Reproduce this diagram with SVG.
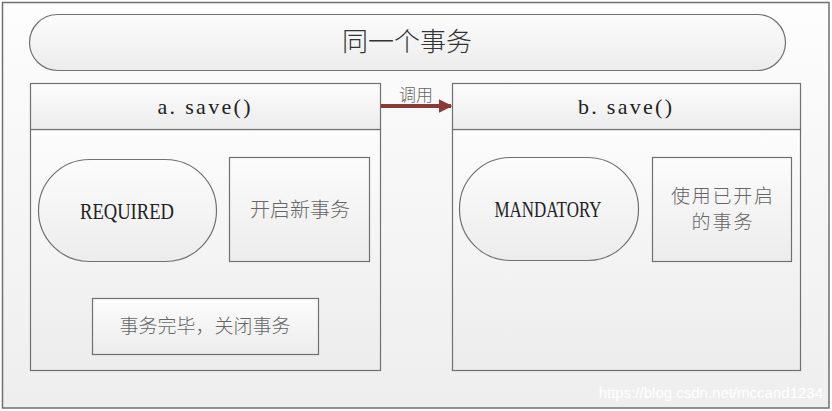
<svg xmlns="http://www.w3.org/2000/svg" width="832" height="411" viewBox="0 0 832 411">
<defs>
<linearGradient id="bg" x1="0" y1="0" x2="0" y2="1">
<stop offset="0" stop-color="#fdfdfd"/>
<stop offset="1" stop-color="#eeeeee"/>
</linearGradient>
<linearGradient id="sh" x1="0" y1="0" x2="0" y2="1">
<stop offset="0" stop-color="#fcfcfc"/>
<stop offset="1" stop-color="#ececec"/>
</linearGradient>
<marker id="ah" viewBox="0 0 10 10" refX="9" refY="5" markerWidth="3.4" markerHeight="3.4" orient="auto" markerUnits="strokeWidth">
<path d="M0,0 L10,5 L0,10 z" fill="#8b3a3a"/>
</marker>
</defs>
<style>
.s{fill:url(#sh);stroke:#707070;stroke-width:1.2}
.cn{font-family:"Noto Sans CJK SC",sans-serif;font-weight:300;fill:#666;text-anchor:middle}
.sf{font-family:"Liberation Serif","Noto Sans CJK SC",serif;fill:#222;text-anchor:middle}
</style>
<rect x="2.5" y="2.5" width="826.5" height="405.5" fill="url(#bg)" stroke="#707070" stroke-width="1.5"/>
<g id="tx">
<rect class="s" x="29.5" y="14.5" width="756" height="56" rx="28" ry="28"/>
<text class="cn" x="407" y="51" font-size="26" style="fill:#333">同一个事务</text>
</g>
<g id="a">
<rect class="s" x="30.5" y="129.5" width="350" height="241"/>
<rect class="s" x="30.5" y="83.5" width="350" height="46"/>
<text class="sf" x="204" y="114" font-size="22" textLength="93" lengthAdjust="spacing">a. save()</text>
</g>
<g id="b">
<rect class="s" x="452.5" y="129.5" width="348" height="241"/>
<rect class="s" x="452.5" y="83.5" width="348" height="46"/>
<text class="sf" x="625" y="114" font-size="22" textLength="94" lengthAdjust="spacing">b. save()</text>
</g>
<g id="required">
<rect class="s" x="38.5" y="159.5" width="178" height="102" rx="51" ry="51"/>
<text class="sf" x="127" y="219" font-size="24" textLength="94" lengthAdjust="spacingAndGlyphs">REQUIRED</text>
</g>
<g id="newtx">
<rect class="s" x="229.5" y="157.5" width="140" height="104"/>
<text class="cn" x="300" y="217" font-size="20">开启新事务</text>
</g>
<g id="close">
<rect class="s" x="92.5" y="298.5" width="226" height="56"/>
<text class="cn" x="205" y="333" font-size="19">事务完毕，关闭事务</text>
</g>
<g id="mandatory">
<rect class="s" x="459.5" y="157.5" width="179" height="103" rx="51" ry="51"/>
<text class="sf" x="548" y="217" font-size="24" textLength="107" lengthAdjust="spacingAndGlyphs">MANDATORY</text>
</g>
<g id="usetx">
<rect class="s" x="652.5" y="157.5" width="139" height="104"/>
<text class="cn" x="722" y="203" font-size="19" textLength="102" lengthAdjust="spacing">使用已开启</text>
<text class="cn" x="722" y="229" font-size="19" textLength="61" lengthAdjust="spacing">的事务</text>
</g>
<g id="connectors">
<line x1="381" y1="106" x2="451" y2="106" stroke="#8b3a3a" stroke-width="4" marker-end="url(#ah)"/>
<text class="cn" x="416" y="101" font-size="17">调用</text>
</g>
<text x="823" y="398" font-family="'Liberation Sans',sans-serif" font-size="15" fill="#ffffff" text-anchor="end">https://blog.csdn.net/mccand1234</text>
</svg>
